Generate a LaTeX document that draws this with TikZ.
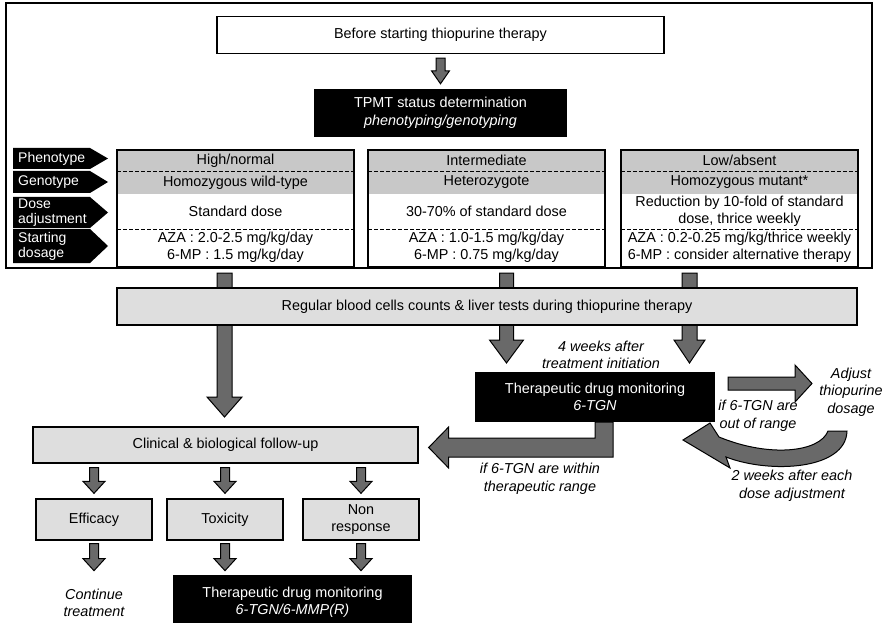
\documentclass[tikz,border=0pt]{standalone}
\usepackage{fontspec}
\setmainfont{Liberation Sans}
\usetikzlibrary{calc}

\definecolor{arrgray}{RGB}{105,105,105}
\definecolor{boxgray}{RGB}{222,222,222}
\definecolor{tabgray}{RGB}{200,200,200}

\newcommand{\bodysize}{\fontsize{14.4}{17.5}\selectfont}

\tikzset{
  box/.style={draw=black,line width=1.3pt,fill=white,inner sep=0pt,align=center},
  greybox/.style={box,fill=boxgray},
  blackbox/.style={fill=black,text=white,inner sep=0pt,align=center},
  blk/.style={fill=arrgray,draw=black,line width=1pt,line join=miter},
  note/.style={font=\bodysize\itshape,align=center,inner sep=0pt},
  cell/.style={inner sep=0pt,align=center},
  rowlab/.style={anchor=west,text=white,align=left,inner sep=0pt,font=\fontsize{14}{15}\selectfont}
}

% block arrow pointing down: from, to, half shaft, half head, head length
\newcommand{\vblk}[5]{%
  \path[blk] let \p1=(#1), \p2=(#2) in
    (\x1-#3,\y1) -- (\x1-#3,\y2+#5) -- (\x1-#4,\y2+#5) -- (\x1,\y2) --
    (\x1+#4,\y2+#5) -- (\x1+#3,\y2+#5) -- (\x1+#3,\y1) -- cycle;}
% block arrow pointing right
\newcommand{\hblk}[5]{%
  \path[blk] let \p1=(#1), \p2=(#2) in
    (\x1,\y1-#3) -- (\x2-#5,\y1-#3) -- (\x2-#5,\y1-#4) -- (\x2,\y1) --
    (\x2-#5,\y1+#4) -- (\x2-#5,\y1+#3) -- (\x1,\y1+#3) -- cycle;}

\begin{document}
\begin{tikzpicture}[x=1pt,y=-1pt,font=\bodysize]
	\useasboundingbox (0,0) rectangle (887,623);
	% frame of the pre-treatment part
	\draw[line width=1.3pt] (6,3) rectangle (872,268);

	\node[box,minimum width=447pt,minimum height=37pt] (before) at (440.5,35) {Before starting thiopurine therapy};
	\node[blackbox,minimum width=253pt,minimum height=48pt] (tpmt) at (440.5,113) {TPMT status determination\\\textit{phenotyping/genotyping}};
	\vblk{$(before.south)+(0,4)$}{$(tpmt.north)+(0,-5)$}{4.5pt}{9pt}{13pt}

	% row labels
	\foreach \ya/\yb/\txt [count=\i] in {148/169/Phenotype,171/193/Genotype,197/228/{Dose\\adjustment},229/263/{Starting\\dosage}}
	{
		\fill (13,\ya) -- (90,\ya) -- (108,{(\ya+\yb)/2}) -- (90,\yb) -- (13,\yb) -- cycle;
		\node[rowlab] (lab\i) at (18,{(\ya+\yb)/2}) {\txt};
	}

	% table columns
	\foreach \l/\r in {117/354,368/605,621/858}
	{
		\fill[tabgray] (\l,150) rectangle (\r,194);
		\draw[line width=0.8pt,dash pattern=on 4pt off 2pt] (\l,171) -- (\r,171) (\l,229) -- (\r,229);
		\draw[line width=1.3pt] (\l,150) rectangle (\r,267);
	}
	\node[cell] (phen1) at (235.5,160.5) {High/normal};
	\node[cell] (geno1) at (235.5,182.5) {Homozygous wild-type};
	\node[cell] (dose1) at (235.5,211.5) {Standard dose};
	\node[cell] (dosage1) at (235.5,247.5) {AZA : 2.0-2.5 mg/kg/day\\6-MP : 1.5 mg/kg/day};
	\node[cell] (phen2) at (486.5,160.5) {Intermediate};
	\node[cell] (geno2) at (486.5,182.5) {Heterozygote};
	\node[cell] (dose2) at (486.5,211.5) {30-70\% of standard dose};
	\node[cell] (dosage2) at (486.5,247.5) {AZA : 1.0-1.5 mg/kg/day\\6-MP : 0.75 mg/kg/day};
	\node[cell] (phen3) at (739.5,160.5) {Low/absent};
	\node[cell] (geno3) at (739.5,182.5) {Homozygous mutant*};
	\node[cell] (dose3) at (739.5,211.5) {Reduction by 10-fold of standard\\dose, thrice weekly};
	\node[cell] (dosage3) at (739.5,247.5) {AZA : 0.2-0.25 mg/kg/thrice weekly\\6-MP : consider alternative therapy};

	% arrows passing behind the monitoring bar
	\coordinate (col1) at (224.5,273);
	\coordinate (col2) at (506.5,273);
	\coordinate (col3) at (689.5,273);
	\coordinate (col1e) at (224.5,417);
	\coordinate (col2e) at (506.5,363);
	\coordinate (col3e) at (689.5,363);
	\vblk{col1}{col1e}{7.5pt}{17.5pt}{20pt}
	\vblk{col2}{col2e}{7pt}{17pt}{23pt}
	\vblk{col3}{col3e}{7.5pt}{15.5pt}{23pt}
	\node[greybox,minimum width=740pt,minimum height=37pt] (blood) at (487,306.5) {Regular blood cells counts \& liver tests during thiopurine therapy};

	% therapeutic drug monitoring
	\node[note] (weeks4) at (601,355) {4 weeks after\\treatment initiation};
	\node[blackbox,minimum width=240pt,minimum height=50pt] (tdm) at (595,397) {Therapeutic drug monitoring\\\textit{6-TGN}};
	\coordinate (adj1) at (728,383.5);
	\coordinate (adj2) at (812,383.5);
	\hblk{adj1}{adj2}{6.5pt}{18.5pt}{17pt}
	\node[note] (adjust) at (851,392) {Adjust\\thiopurine\\dosage};
	\node[note] (outrange) at (758,416) {if 6-TGN are\\out of range};
	\draw[blk] (683,440) -- (710,423) -- (719,437) .. controls (770,458) and (820,452) .. (828,431)
		-- (847,431) .. controls (846,470) and (770,474) .. (726,457) -- (730,468) -- cycle;
	\node[note] (twoweeks) at (792,486) {2 weeks after each\\dose adjustment};

	% follow-up
	\node[greybox,minimum width=385pt,minimum height=36pt] (follow) at (225.5,445) {Clinical \& biological follow-up};
	\path[blk] let \p1=([xshift=9pt]tdm.south), \p2=([xshift=10pt,yshift=-2.5pt]follow.east) in
		(\x1-9pt,\y1) -- (\x1-9pt,\y2+9.5pt) -- (\x2+20pt,\y2+9.5pt) -- (\x2+20pt,\y2+20.5pt) -- (\x2,\y2)
		-- (\x2+20pt,\y2-20.5pt) -- (\x2+20pt,\y2-9.5pt) -- (\x1+9pt,\y2-9.5pt) -- (\x1+9pt,\y1) -- cycle;
	\node[note] (within) at (540,479) {if 6-TGN are within\\therapeutic range};

	\node[greybox,minimum width=116pt,minimum height=41pt] (eff) at (94,519.5) {Efficacy};
	\node[greybox,minimum width=116pt,minimum height=41pt] (tox) at (225,519.5) {Toxicity};
	\node[greybox,minimum width=116pt,minimum height=41pt] (nonresp) at (361,519.5) {Non\\response};
	\foreach \b in {eff,tox,nonresp}
	{
		\vblk{$(\b.north|-follow.south)+(0,4)$}{$(\b.north)+(0,-5)$}{4.5pt}{11pt}{12pt}
		\vblk{$(\b.south)+(0,3)$}{$(\b.south)+(0,30)$}{4.5pt}{11pt}{12pt}
	}
	\node[note] (cont) at (94,603) {Continue\\treatment};
	\node[blackbox,minimum width=239pt,minimum height=55pt] (tdm2) at (292.5,602.5) {Therapeutic drug monitoring\\\textit{6-TGN/6-MMP(R)}};
\end{tikzpicture}
\end{document}
